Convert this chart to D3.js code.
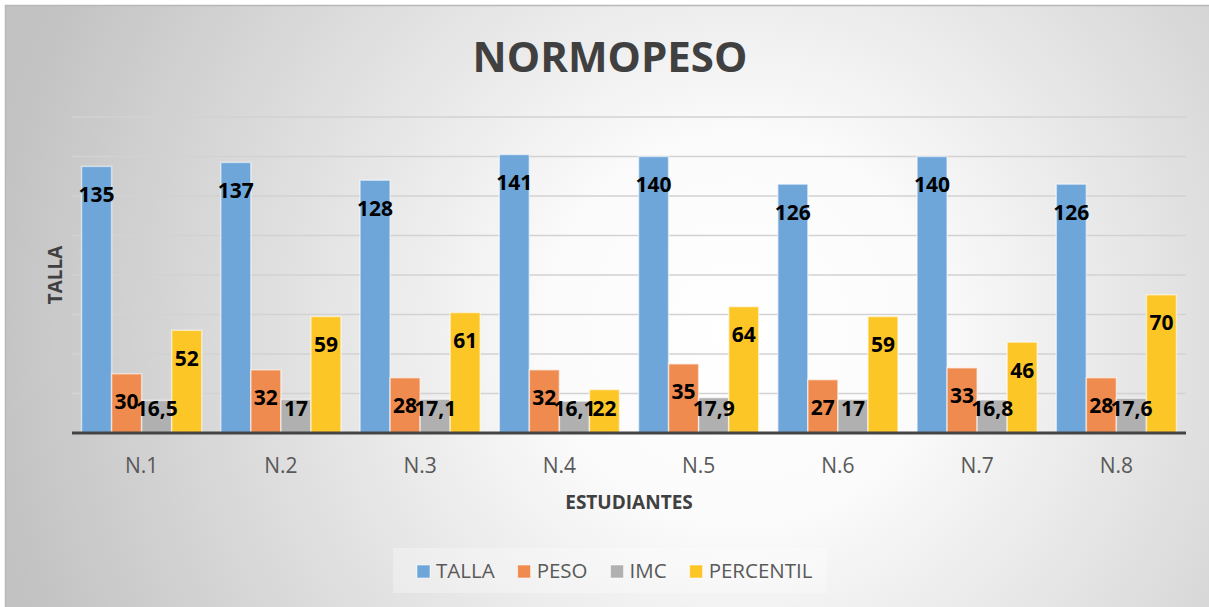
<!DOCTYPE html>
<html>
<head>
<meta charset="utf-8">
<script src="https://cdn.jsdelivr.net/npm/d3@7"></script>
<style>
  body { margin: 0; background: #fff; }
  svg { display: block; font-family: "Open Sans", sans-serif; }
</style>
</head>
<body>
<div id="chart"></div>
<script>
var width = 1209, height = 607;

var categories = ["N.1", "N.2", "N.3", "N.4", "N.5", "N.6", "N.7", "N.8"];
var seriesNames = ["TALLA", "PESO", "IMC", "PERCENTIL"];
var talla = [135, 137, 128, 141, 140, 126, 140, 126];
var peso = [30, 32, 28, 32, 35, 27, 33, 28];
var imc = [16.5, 17, 17.1, 16.1, 17.9, 17, 16.8, 17.6];
var percentil = [52, 59, 61, 22, 64, 59, 46, 70];
var yTicks = [0, 20, 40, 60, 80, 100, 120, 140, 160];

var colors = ["#6fa6da", "#ef8b4e", "#b0b0b0", "#fdc627"];
var seriesValues = [talla, peso, imc, percentil];

var svg = d3.select("#chart")
            .append("svg")
            .attr("width", width)
            .attr("height", height);

// background gradient
var defs = svg.append("defs");
var grad = defs.append("radialGradient")
    .attr("id", "bg")
    .attr("gradientUnits", "userSpaceOnUse")
    .attr("cx", 740).attr("cy", 330).attr("r", 760);
grad.append("stop").attr("offset", "0%").attr("stop-color", "#ffffff");
grad.append("stop").attr("offset", "25%").attr("stop-color", "#fbfbfb");
grad.append("stop").attr("offset", "100%").attr("stop-color", "#c2c2c2");

svg.append("rect")
   .attr("x", 5.5).attr("y", 5.5)
   .attr("width", 1215).attr("height", 615)
   .attr("fill", "url(#bg)")
   .attr("stroke", "#b8b8b8")
   .attr("stroke-width", 1.5);

var margin = {left: 72, right: 1186, top: 117, bottom: 433};

var x0 = d3.scaleBand()
           .domain(categories)
           .range([margin.left, margin.right])
           .paddingInner(0.137)
           .paddingOuter(0.0685);

var x1 = d3.scaleBand()
           .domain(seriesNames)
           .range([0, x0.bandwidth()]);

var y = d3.scaleLinear()
          .domain([0, 160])
          .range([margin.bottom, margin.top]);

// gridlines
svg.append("g")
   .selectAll("line")
   .data(yTicks.slice(1))
   .enter()
   .append("line")
   .attr("x1", margin.left)
   .attr("x2", margin.right)
   .attr("y1", function(d) { return y(d); })
   .attr("y2", function(d) { return y(d); })
   .attr("stroke", "#d2d2d2")
   .attr("stroke-width", 1.5);

// rows: one per category and series
var rows = [];
categories.forEach(function(c, i) {
    seriesNames.forEach(function(s, j) {
        rows.push({cat: c, series: s, value: seriesValues[j][i], color: colors[j]});
    });
});

svg.append("g")
   .selectAll("rect")
   .data(rows)
   .enter()
   .append("rect")
   .attr("x", function(d) { return x0(d.cat) + x1(d.series); })
   .attr("y", function(d) { return y(d.value); })
   .attr("width", x1.bandwidth())
   .attr("height", function(d) { return y(0) - y(d.value); })
   .attr("fill", function(d) { return d.color; })
   .attr("stroke", "rgba(255,255,255,0.55)")
   .attr("stroke-width", 1.5);

// axis line
svg.append("line")
   .attr("x1", margin.left).attr("x2", margin.right)
   .attr("y1", y(0)).attr("y2", y(0))
   .attr("stroke", "#444")
   .attr("stroke-width", 3);

// value labels (inside end)
function fmt(v) { return String(v).replace(".", ","); }

svg.append("g")
   .selectAll("text")
   .data(rows)
   .enter()
   .append("text")
   .attr("x", function(d) { return x0(d.cat) + x1(d.series) + x1.bandwidth() / 2; })
   .attr("y", function(d) { return Math.min(y(d.value) + 28, y(0) - 25); })
   .attr("dy", "0.36em")
   .attr("text-anchor", "middle")
   .attr("font-size", 21)
   .attr("font-weight", "bold")
   .attr("fill", "#000")
   .text(function(d) { return fmt(d.value); });

// category labels
var xAxis = d3.axisBottom(x0).tickSize(0).tickPadding(0);
var gx = svg.append("g")
   .attr("transform", "translate(0," + (y(0) + 40) + ")")
   .call(xAxis);
gx.select(".domain").remove();
gx.selectAll("text")
  .attr("font-family", "Open Sans, sans-serif")
  .attr("font-size", 21)
  .attr("fill", "#595959")
  .attr("dy", 0);

// axis titles
svg.append("text")
   .attr("x", (margin.left + margin.right) / 2)
   .attr("y", 509)
   .attr("text-anchor", "middle")
   .attr("font-size", 19)
   .attr("font-weight", "bold")
   .attr("fill", "#404040")
   .text("ESTUDIANTES");

svg.append("text")
   .attr("transform", "translate(62," + ((margin.top + margin.bottom) / 2) + ") rotate(-90)")
   .attr("text-anchor", "middle")
   .attr("font-size", 19)
   .attr("font-weight", "bold")
   .attr("fill", "#404040")
   .text("TALLA");

// title
svg.append("text")
   .attr("x", 610)
   .attr("y", 72)
   .attr("text-anchor", "middle")
   .attr("font-size", 42)
   .attr("font-weight", "bold")
   .attr("fill", "#404040")
   .text("NORMOPESO");

// legend
svg.append("rect")
   .attr("x", 393).attr("y", 548)
   .attr("width", 434).attr("height", 45)
   .attr("fill", "#ffffff")
   .attr("fill-opacity", 0.3);

var legend = svg.append("g");
var lx = 417;
seriesNames.forEach(function(s, j) {
    legend.append("rect")
          .attr("x", lx).attr("y", 565)
          .attr("width", 13).attr("height", 13)
          .attr("fill", colors[j])
          .attr("stroke", "rgba(255,255,255,0.55)");
    var t = legend.append("text")
          .attr("x", lx + 19)
          .attr("y", 578)
          .attr("font-size", 20.5)
          .attr("fill", "#595959")
          .text(s);
    lx = lx + 19 + t.node().getComputedTextLength() + 23;
});
</script>
</body>
</html>
